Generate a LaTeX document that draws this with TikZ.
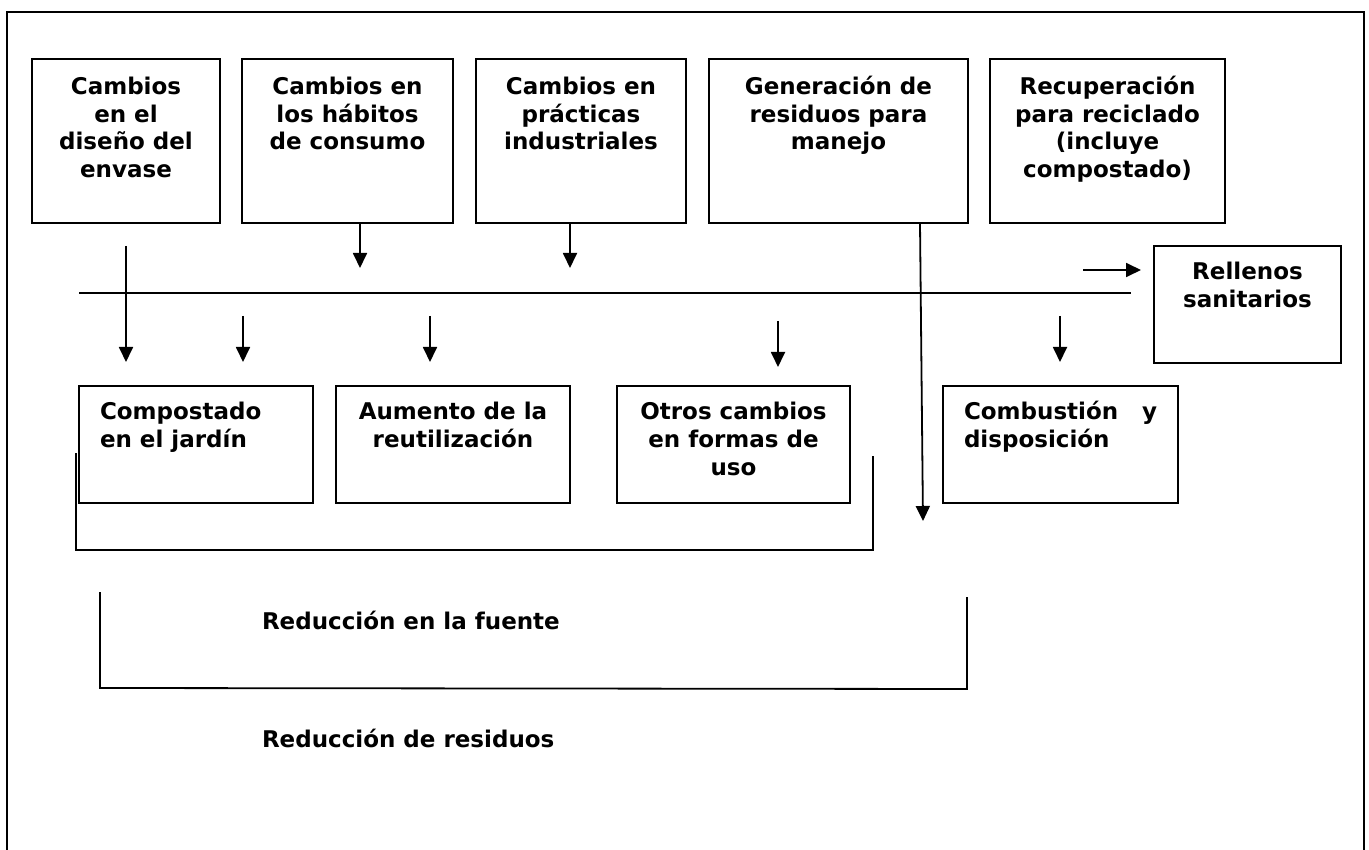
\documentclass[tikz,border=0pt]{standalone}
\usepackage{fontspec}
\setmainfont{DejaVu Sans}
\usetikzlibrary{arrows.meta}
\tikzset{
  frameline/.style={line width=2.8pt},
  box/.style={draw, line width=2pt, inner sep=0pt, outer sep=0pt},
  lbl/.style={inner sep=0pt, outer sep=0pt, font=\fontsize{23}{27.5}\selectfont\bfseries},
  conn/.style={line width=1.8pt},
  arr/.style={conn, -{Triangle[length=15pt,width=14pt]}},
}
\newcommand{\ctext}[2]{\parbox[t]{#1}{\centering #2}}
\newcommand{\ltext}[2]{\parbox[t]{#1}{\raggedright #2}}
\begin{document}
\begin{tikzpicture}[x=1pt,y=-1pt]
\useasboundingbox (0,0) rectangle (1369,850);
% outer frame
\coordinate (f1) at (7,850);
\coordinate (f2) at (7,12);
\coordinate (f3) at (1364,12);
\coordinate (f4) at (1364,850);
\draw[frameline] (f1) -- (f2) -- (f3) -- (f4);

% top boxes
\node[box, minimum width=188pt, minimum height=164pt] (b1) at (126,141) {};
\node[box, minimum width=211pt, minimum height=164pt] (b2) at (347.5,141) {};
\node[box, minimum width=210pt, minimum height=164pt] (b3) at (581,141) {};
\node[box, minimum width=259pt, minimum height=164pt] (b4) at (838.5,141) {};
\node[box, minimum width=235pt, minimum height=164pt] (b5) at (1107.5,141) {};
\node[box, minimum width=187pt, minimum height=117pt] (rel) at (1247.5,304.5) {};
% bottom boxes
\node[box, minimum width=234pt, minimum height=117pt] (c1) at (196,444.5) {};
\node[box, minimum width=234pt, minimum height=117pt] (c2) at (453,444.5) {};
\node[box, minimum width=233pt, minimum height=117pt] (c3) at (733.5,444.5) {};
\node[box, minimum width=235pt, minimum height=117pt] (c4) at (1060.5,444.5) {};

% texts
\node[lbl, anchor=base] (t1) at (126,95) {\ctext{185pt}{Cambios\\en el\\diseño del\\envase}};
\node[lbl, anchor=base] (t2) at (347.5,95) {\ctext{205pt}{Cambios en\\los hábitos\\de consumo}};
\node[lbl, anchor=base] (t3) at (581,95) {\ctext{205pt}{Cambios en\\prácticas\\industriales}};
\node[lbl, anchor=base] (t4) at (838.5,95) {\ctext{255pt}{Generación de\\residuos para\\manejo}};
\node[lbl, anchor=base] (t5) at (1107.5,95) {\ctext{230pt}{Recuperación\\para reciclado\\(incluye\\compostado)}};
\node[lbl, anchor=base] (t6) at (1247.5,280) {\ctext{185pt}{Rellenos\\sanitarios}};
\node[lbl, anchor=base west] (t7) at (100,420) {\ltext{205pt}{Compostado\\en el jardín}};
\node[lbl, anchor=base] (t8) at (453,420) {\ctext{230pt}{Aumento de la\\reutilización}};
\node[lbl, anchor=base] (t9) at (733.5,420) {\ctext{230pt}{Otros cambios\\en formas de\\uso}};
\node[lbl, anchor=base west] (t10) at (964,420) {\ltext{193pt}{Combustión\hfill y\\disposición}};
\node[lbl, anchor=base west] (t11) at (262,629) {Reducción en la fuente};
\node[lbl, anchor=base west] (t12) at (262,747) {Reducción de residuos};

% horizontal line
\coordinate (h1) at (79,293);
\coordinate (h2) at (1131,293);
\draw[conn] (h1) -- (h2);

% arrows
\coordinate (a1s) at (126,246);
\coordinate (a1e) at (126,362);
\draw[arr] (a1s) -- (a1e);
\coordinate (a2e) at (360,268);
\draw[arr] (b2.south -| a2e) -- (a2e);
\coordinate (a3e) at (570,268);
\draw[arr] (b3.south -| a3e) -- (a3e);
\coordinate (a4s) at (243,316);
\coordinate (a4e) at (243,362);
\draw[arr] (a4s) -- (a4e);
\coordinate (a5s) at (430,316);
\coordinate (a5e) at (430,362);
\draw[arr] (a5s) -- (a5e);
\coordinate (a6s) at (778,321);
\coordinate (a6e) at (778,367);
\draw[arr] (a6s) -- (a6e);
\coordinate (a7s) at (1060,316);
\coordinate (a7e) at (1060,362);
\draw[arr] (a7s) -- (a7e);
\coordinate (a8s) at (1083,270);
\coordinate (a8e) at (1141,270);
\draw[arr] (a8s) -- (a8e);
\coordinate (lgx) at (920,0);
\coordinate (lge) at (923,521);
\draw[arr] (b4.south -| lgx) -- (lge);

% brackets
\coordinate (k1) at (76,453);
\coordinate (k2) at (76,550);
\coordinate (k3) at (873,550);
\coordinate (k4) at (873,456);
\draw[conn] (k1) -- (k2) -- (k3) -- (k4);
\coordinate (m1) at (100,592);
\coordinate (m2) at (100,688);
\coordinate (m3) at (967,689);
\coordinate (m4) at (967,597);
\draw[conn] (m1) -- (m2) -- (m3) -- (m4);
\end{tikzpicture}
\end{document}
